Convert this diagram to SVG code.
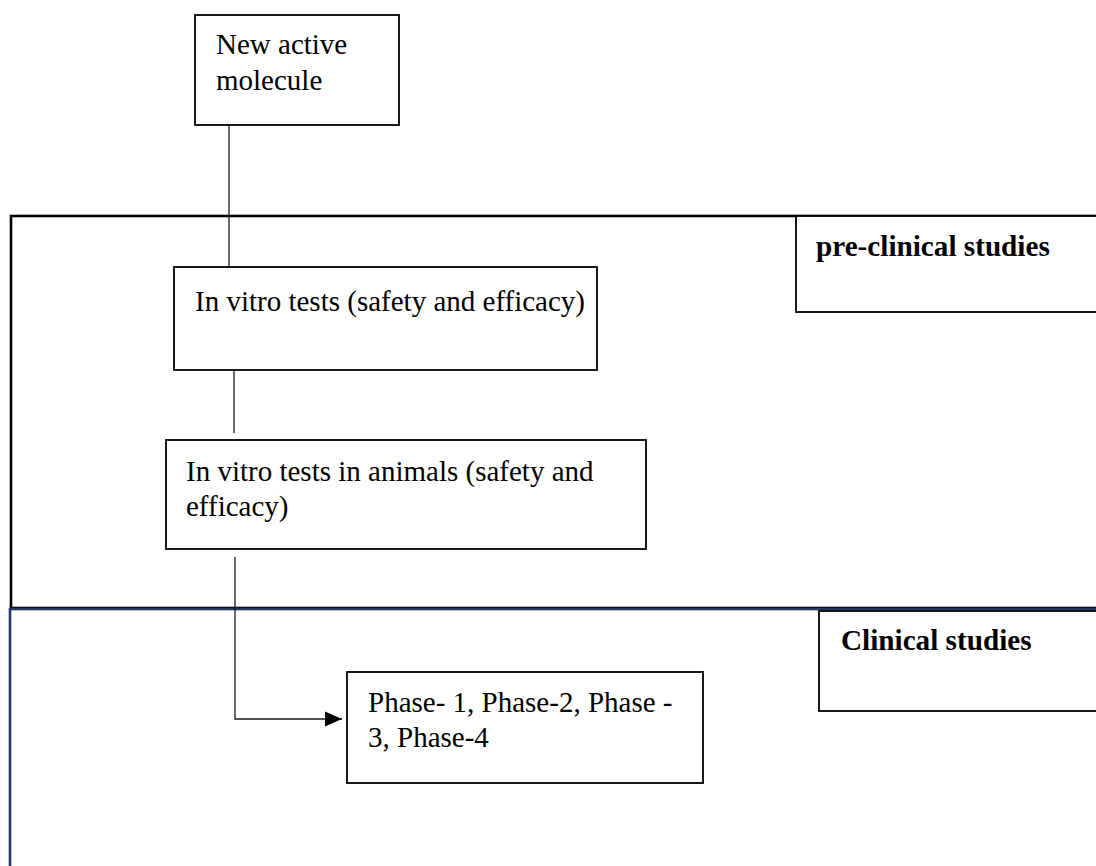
<svg xmlns="http://www.w3.org/2000/svg" width="1096" height="866" viewBox="0 0 1096 866">
  <style>
    .region { fill: none; stroke-width: 2.6; }
    .box { fill: #ffffff; stroke: #000000; stroke-width: 1.8; }
    .label { font-family: "Liberation Serif", "Times New Roman", serif; font-size: 29px; fill: #000000; }
    .head { font-family: "Liberation Serif", "Times New Roman", serif; font-size: 29.2px; font-weight: bold; fill: #000000; }
    .wire { fill: none; stroke: #1a1a1a; stroke-width: 1.3; }
  </style>
  <defs>
    <marker id="arrow" markerWidth="18" markerHeight="16" refX="17" refY="8" orient="auto" markerUnits="userSpaceOnUse">
      <path d="M0,0.5 L17,8 L0,15.5 Z" fill="#000000"/>
    </marker>
  </defs>
  <rect width="1096" height="866" fill="#ffffff"/>

  <!-- Pre-clinical region -->
  <g id="preclinical-region">
    <rect class="region" x="11" y="216" width="1100" height="392" stroke="#000000"/>
  </g>
  <!-- Clinical region -->
  <g id="clinical-region">
    <rect class="region" x="10" y="609" width="1100" height="280" stroke="#1f3864"/>
  </g>

  <g id="preclinical-label">
    <rect class="box" x="796" y="216" width="320" height="96"/>
    <text class="head" x="816" y="256">pre-clinical studies</text>
  </g>

  <g id="clinical-label">
    <rect class="box" x="819" y="611" width="300" height="100"/>
    <text class="head" x="841" y="650">Clinical studies</text>
  </g>

  <g id="new-molecule">
    <rect class="box" x="195" y="15" width="204" height="110"/>
    <text class="label" x="216" y="54">New active</text>
    <text class="label" x="216" y="90">molecule</text>
  </g>

  <g id="in-vitro">
    <rect class="box" x="174" y="267" width="423" height="103"/>
    <text class="label" x="195" y="311">In vitro tests (safety and efficacy)</text>
  </g>

  <g id="in-animals">
    <rect class="box" x="166" y="440" width="480" height="109"/>
    <text class="label" x="186" y="481">In vitro tests in animals (safety and</text>
    <text class="label" x="186" y="516">efficacy)</text>
  </g>

  <g id="phases">
    <rect class="box" x="347" y="672" width="356" height="111"/>
    <text class="label" x="368" y="712">Phase- 1, Phase-2, Phase -</text>
    <text class="label" x="368" y="747">3, Phase-4</text>
  </g>

  <g id="connectors">
    <line class="wire" x1="229" y1="125" x2="229" y2="267"/>
    <line class="wire" x1="234" y1="370" x2="234" y2="433"/>
    <path class="wire" d="M235,557 L235,719 L342,719" marker-end="url(#arrow)"/>
  </g>
</svg>
